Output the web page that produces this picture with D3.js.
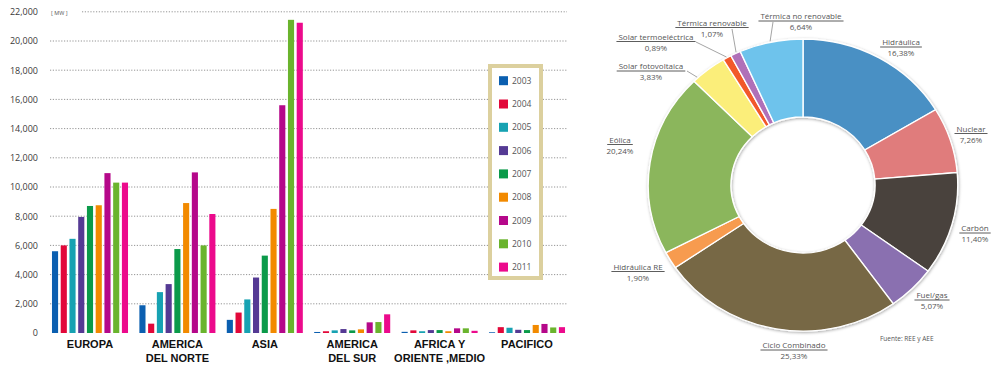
<!DOCTYPE html>
<html>
<head>
<meta charset="utf-8">
<script src="https://cdnjs.cloudflare.com/ajax/libs/d3/7.8.5/d3.min.js"></script>
<style>
body{margin:0;background:#fff;}
</style>
</head>
<body>
<div id="divForChart"></div>
<script>
// bar chart data (MW)
var years = ["2003","2004","2005","2006","2007","2008","2009","2010","2011"];
var regions = ["EUROPA","AMERICA|DEL NORTE","ASIA","AMERICA|DEL SUR","AFRICA Y|ORIENTE ,MEDIO","PACIFICO"];
var europa = [5600,6000,6450,7950,8700,8750,10950,10300,10300];
var americaNorte = [1900,640,2800,3350,5750,8900,11000,6000,8150];
var asia = [900,1400,2300,3800,5300,8500,15600,21450,21250];
var americaSur = [70,120,180,270,180,250,730,750,1280];
var africa = [80,180,120,200,200,120,320,320,150];
var pacifico = [50,400,360,220,200,550,620,380,400];
var yTicks = [0,2000,4000,6000,8000,10000,12000,14000,16000,18000,20000,22000];
var yearColors = ["#0b5fb0","#e2083a","#17a2b2","#553a94","#0b9a4a","#f28a00","#b5088a","#6ab42d","#ec0a8c"];

// donut data (%)
var sources = ["Hidráulica","Nuclear","Carbón","Fuel/gas","Ciclo Combinado","Hidráulica RE","Eólica","Solar fotovoltaica","Solar termoeléctrica","Térmica renovable","Térmica no renovable"];
var shares = [16.38,7.26,11.40,5.07,25.33,1.90,20.24,3.83,0.89,1.07,6.64];
var sourceColors = ["#4a90c4","#e07b7b","#4a433c","#8a6fb0","#776744","#f79b4f","#8bb65b","#fbee7a","#f2582a","#b070b8","#6ec3ec"];

var W = 991, H = 365;
var font = "'Open Sans', sans-serif";

var svg = d3.select("#divForChart").append("svg")
	.attr("width", W)
	.attr("height", H)
	.style("display","block");

function drawBars()
{
	var series = [europa, americaNorte, asia, americaSur, africa, pacifico];
	var x0 = d3.scaleBand().domain(regions).range([46.3, 570.7]).paddingInner(0.13).paddingOuter(0.065);
	var x1 = d3.scaleBand().domain(years).range([0, x0.bandwidth()]).paddingInner(0.3);
	var y = d3.scaleLinear().domain([0, 22000]).range([333, 11.8]);

	// dotted grid
	svg.append("g").selectAll("line")
		.data(yTicks.filter(function(d){ return d > 0; }))
		.enter().append("line")
		.attr("x1", function(d){ return d == 22000 ? 82 : 50; })
		.attr("x2", 567)
		.attr("y1", function(d){ return y(d); })
		.attr("y2", function(d){ return y(d); })
		.attr("stroke", "#7a7a7a")
		.attr("stroke-width", 0.8)
		.attr("stroke-dasharray", "1.2,1.6");

	var axis = d3.axisLeft(y).tickValues(yTicks).tickFormat(d3.format(",")).tickSize(0).tickPadding(0);
	var ag = svg.append("g").attr("transform", "translate(38,0)").call(axis);
	ag.select(".domain").remove();
	ag.selectAll("text")
		.attr("font-family", font)
		.attr("font-size", 9)
		.attr("fill", "#3a3a3a");

	svg.append("text")
		.text("[ MW ]")
		.attr("x", 51)
		.attr("y", 15)
		.attr("font-family", font)
		.attr("font-size", 5.5)
		.attr("fill", "#555");

	var groups = svg.append("g").selectAll("g")
		.data(regions)
		.enter().append("g")
		.attr("transform", function(d){ return "translate(" + x0(d) + ",0)"; });

	groups.selectAll("rect")
		.data(function(d, i){ return series[i]; })
		.enter().append("rect")
		.attr("x", function(d, j){ return x1(years[j]); })
		.attr("width", x1.bandwidth())
		.attr("y", function(d){ return y(d); })
		.attr("height", function(d){ return y(0) - y(d); })
		.attr("fill", function(d, j){ return yearColors[j]; });

	// category labels
	groups.each(function(d){
		var lines = d.split("|");
		var g = d3.select(this);
		for(var k=0;k<lines.length;k++)
		{
			g.append("text")
				.text(lines[k])
				.attr("x", x0.bandwidth()/2)
				.attr("y", 348 + k*13.5)
				.attr("text-anchor", "middle")
				.attr("font-family", "'Liberation Sans', Arial, sans-serif")
				.attr("font-weight", "bold")
				.attr("font-size", 11)
				.attr("fill", "#111");
		}
	});

	// legend
	var lg = svg.append("g");
	lg.append("rect")
		.attr("x", 490)
		.attr("y", 66)
		.attr("width", 51)
		.attr("height", 212)
		.attr("fill", "#fff")
		.attr("stroke", "#dcd09e")
		.attr("stroke-width", 4);
	var items = lg.selectAll("g.item")
		.data(years)
		.enter().append("g")
		.attr("class", "item")
		.attr("transform", function(d, i){ return "translate(0," + (80.7 + i*23.3) + ")"; });
	items.append("rect")
		.attr("x", 499)
		.attr("y", -4.5)
		.attr("width", 9)
		.attr("height", 9)
		.attr("fill", function(d, i){ return yearColors[i]; });
	items.append("text")
		.text(function(d){ return d; })
		.attr("x", 512)
		.attr("y", 3)
		.attr("font-family", font)
		.attr("font-size", 8.5)
		.attr("fill", "#555");
}

function drawDonut()
{
	var cx = 803, cy = 185, sx = 1.06;
	var rOut = 146, rIn = 68;
	var pie = d3.pie().sort(null).value(function(d){ return d; });
	var arcs = pie(shares);
	var arc = d3.arc().innerRadius(rIn).outerRadius(rOut);

	var defs = svg.append("defs");
	var f = defs.append("filter").attr("id", "shade").attr("x", "-10%").attr("y", "-10%").attr("width", "120%").attr("height", "120%");
	f.append("feDropShadow")
		.attr("dx", 0.5)
		.attr("dy", 1)
		.attr("stdDeviation", 1.6)
		.attr("flood-color", "#000")
		.attr("flood-opacity", 0.35);

	var g = svg.append("g")
		.attr("transform", "translate(" + cx + "," + cy + ") scale(" + sx + ",1)")
		.attr("filter", "url(#shade)");
	g.selectAll("path")
		.data(arcs)
		.enter().append("path")
		.attr("d", arc)
		.attr("fill", function(d, i){ return sourceColors[i]; })
		.attr("stroke", "#fff")
		.attr("stroke-width", 1.3);

	// label layout: name centre x, name baseline y
	var labelPos = [[901,45],[971,131.5],[975,231],[932,298],[794,348],[638,269.5],[620,142.5],[651,69],[656,39.5],[712,25.5],[801,19]];
	var fmt = d3.format(".2f");
	var lab = svg.append("g").selectAll("g")
		.data(sources)
		.enter().append("g");
	lab.each(function(name, i){
		var g2 = d3.select(this);
		var p = labelPos[i];
		var t = g2.append("text")
			.text(name)
			.attr("x", p[0])
			.attr("y", p[1])
			.attr("text-anchor", "middle")
			.attr("font-family", font)
			.attr("font-size", 8)
			.attr("fill", "#555");
		var w = t.node().getComputedTextLength();
		g2.append("line")
			.attr("x1", p[0] - w/2 - 2)
			.attr("x2", p[0] + w/2 + 2)
			.attr("y1", p[1] + 2)
			.attr("y2", p[1] + 2)
			.attr("stroke", "#333")
			.attr("stroke-width", 0.8);
		g2.append("text")
			.text(fmt(shares[i]).replace(".", ",") + "%")
			.attr("x", p[0])
			.attr("y", p[1] + 11)
			.attr("text-anchor", "middle")
			.attr("font-family", font)
			.attr("font-size", 8)
			.attr("fill", "#555");
	});

	// leader lines: slice index, start x, start y, position inside slice
	var leaders = [[10,773,22,0.49],[9,732,29,0.6],[8,696,42,0.47],[7,687,71,0.14]];
	svg.append("g").selectAll("line")
		.data(leaders)
		.enter().append("line")
		.attr("x1", function(d){ return d[1]; })
		.attr("y1", function(d){ return d[2]; })
		.attr("x2", function(d){
			var a = arcs[d[0]];
			var ang = a.startAngle + (a.endAngle - a.startAngle)*d[3];
			return cx + sx*(rOut + 1)*Math.sin(ang);
		})
		.attr("y2", function(d){
			var a = arcs[d[0]];
			var ang = a.startAngle + (a.endAngle - a.startAngle)*d[3];
			return cy - (rOut + 1)*Math.cos(ang);
		})
		.attr("stroke", "#666")
		.attr("stroke-width", 0.6);

	svg.append("text")
		.text("Fuente: REE y AEE")
		.attr("x", 880)
		.attr("y", 341)
		.attr("font-family", font)
		.attr("font-size", 6.5)
		.attr("fill", "#555");
}

drawBars();
drawDonut();
</script>
</body>
</html>
